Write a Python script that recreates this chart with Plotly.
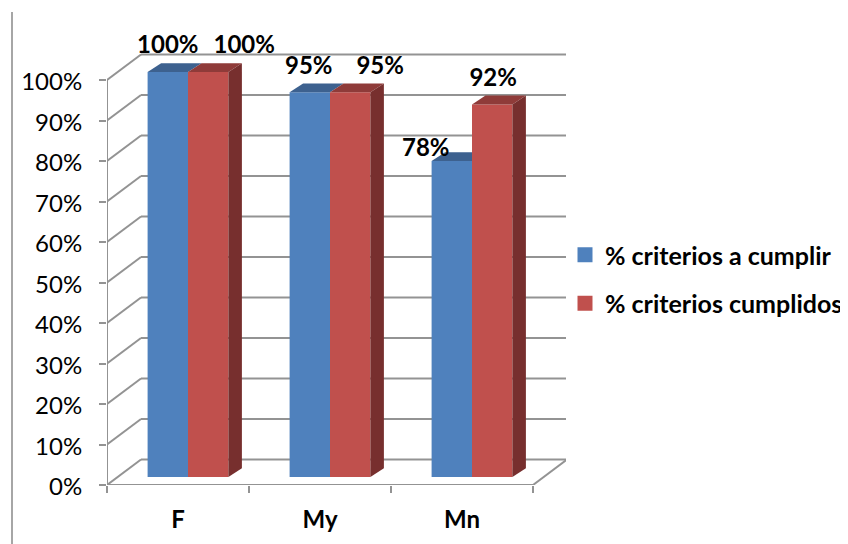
import plotly.graph_objects as go

categories = ["F", "My", "Mn"]
series_names = ["% criterios a cumplir", "% criterios cumplidos"]
criterios_a_cumplir = [100, 95, 78]
criterios_cumplidos = [100, 95, 92]
y_ticks = [0, 10, 20, 30, 40, 50, 60, 70, 80, 90, 100]

# Geometry of the fake 3-D box (the page body adds an 8px margin)
PAGE = 8
W, H = 848 - PAGE, 544 - PAGE
L, R, T, B = 107 - PAGE, 282, 12, 59
UX = 142.0      # px per category
UY = 4.05       # px per percent
WALL_DX, WALL_DY = 34 / UX, 25.5 / UY
BAR_W = 40.4 / UX
BAR_DX, BAR_DY = 13.5 / UX, 8.8 / UY
BAR_SHIFT = 10 / UX
BAR_BASE = 8 / UY
GRID = "#939393"
FONT = "Lato"
PW, PH = W - L - R, H - T - B

x_rng = [-0.5, -0.5 + PW / UX]
y_rng = [0, PH / UY]
x_left, x_right = -0.5, 2.5

fills = [("#4F81BD", "#3D618F", "#3D618F"), ("#C0504D", "#8F3B39", "#772F2E")]
label_off = [[(0, -25), (-1, -24), (-26, -11)], [(36, -25), (30, -24), (1, -24)]]

fig = go.Figure()
series = [criterios_a_cumplir, criterios_cumplidos]
centres = list(range(len(categories)))

def seg(x0, y0, x1, y1, w=2):
    return dict(type="line", xref="x", yref="y", x0=x0, y0=y0, x1=x1, y1=y1,
                layer="below", line=dict(color=GRID, width=w))

shapes = []
for v in y_ticks:
    shapes.append(seg(x_left + WALL_DX, v + WALL_DY, x_right + WALL_DX, v + WALL_DY))
    shapes.append(seg(x_left, v, x_left + WALL_DX, v + WALL_DY))
shapes.append(seg(x_left, 0, x_left, 100))
shapes.append(seg(x_left, 0, x_right, 0))
shapes.append(seg(x_right, 0, x_right + WALL_DX, WALL_DY))
# frame rule at the left of the picture
shapes.append(dict(type="line", xref="paper", yref="paper",
                   x0=(12 - PAGE - L) / PW, x1=(12 - PAGE - L) / PW,
                   y0=-B / PH, y1=(H - B - (12 - PAGE)) / PH,
                   line=dict(color="#a6a6a6", width=2)))

for s, vals in enumerate(series):
    front, top, side = fills[s]
    xs = [c + BAR_SHIFT + (s - 1) * BAR_W for c in centres]  # left edge of each bar
    fig.add_trace(go.Bar(x=[x + BAR_W / 2 for x in xs], y=vals, base=[BAR_BASE] * len(vals),
                         width=BAR_W, marker=dict(color=front, line=dict(width=0)),
                         showlegend=False, hoverinfo="skip"))

for s, vals in enumerate(series):
    front, top, side = fills[s]
    for i, v in enumerate(vals):
        x0 = centres[i] + BAR_SHIFT + (s - 1) * BAR_W
        x1 = x0 + BAR_W
        y1 = BAR_BASE + v
        if s == 0 and series[1][i] > v:
            tx = [x0, x1, x1, x0 + BAR_DX]     # the taller neighbour hides the rest
        else:
            tx = [x0, x1, x1 + BAR_DX, x0 + BAR_DX]
        fig.add_trace(go.Scatter(x=tx, y=[y1, y1, y1 + BAR_DY, y1 + BAR_DY], mode="lines",
                                 fill="toself", fillcolor=top, line=dict(width=0),
                                 showlegend=False, hoverinfo="skip"))
        if s == 1:
            fig.add_trace(go.Scatter(x=[x1, x1 + BAR_DX, x1 + BAR_DX, x1],
                                     y=[BAR_BASE, BAR_BASE + BAR_DY, y1 + BAR_DY, y1],
                                     mode="lines", fill="toself", fillcolor=side,
                                     line=dict(width=0), showlegend=False, hoverinfo="skip"))

for s, vals in enumerate(series):
    for i, v in enumerate(vals):
        x0 = centres[i] + BAR_SHIFT + (s - 1) * BAR_W
        dx, dy = label_off[s][i]
        fig.add_trace(go.Scatter(x=[x0 + BAR_W / 2 + dx / UX], y=[BAR_BASE + v - dy / UY],
                                 mode="text", text=[f"{v}%"], textposition="middle center",
                                 textfont=dict(family=FONT, size=24, color="black", weight="bold"),
                                 cliponaxis=False, showlegend=False, hoverinfo="skip"))

for s, name in enumerate(series_names):
    fig.add_trace(go.Scatter(x=[None], y=[None], mode="markers", name=name,
                             legendgroup=name,
                             marker=dict(symbol="square", size=15, color=fills[s][0])))

fig.update_layout(
    width=W, height=H, autosize=False,
    margin=dict(l=L, r=R, t=T, b=B, pad=0, autoexpand=False),
    paper_bgcolor="white", plot_bgcolor="white",
    shapes=shapes, barmode="overlay",
    legend=dict(x=(565 - 8 - L) / PW, y=(H - B - (232 - 8)) / PH, xanchor="left", yanchor="top",
                font=dict(family=FONT, size=25, color="black", weight="bold"),
                tracegroupgap=13, itemwidth=30, bgcolor="rgba(0,0,0,0)"),
    xaxis=dict(range=x_rng, tickmode="array", tickvals=centres, ticktext=categories,
               ticks="", showgrid=False, zeroline=False, showline=False, ticklabelstandoff=18,
               tickfont=dict(family=FONT, size=24, color="black", weight="bold"),
               minor=dict(tickmode="array", tickvals=[-0.5, 0.5, 1.5, 2.5], ticks="outside",
                          ticklen=7, tickwidth=2, tickcolor=GRID, showgrid=False)),
    yaxis=dict(range=y_rng, tickmode="array", tickvals=y_ticks, ticktext=[f"{v}%" for v in y_ticks],
               ticks="outside", ticklen=7, tickwidth=2, tickcolor=GRID, showgrid=False,
               zeroline=False, showline=False, ticklabelstandoff=12, ticklabelshift=2,
               tickfont=dict(family=FONT, size=24, color="black")),
)
fig.write_html("out.html")
